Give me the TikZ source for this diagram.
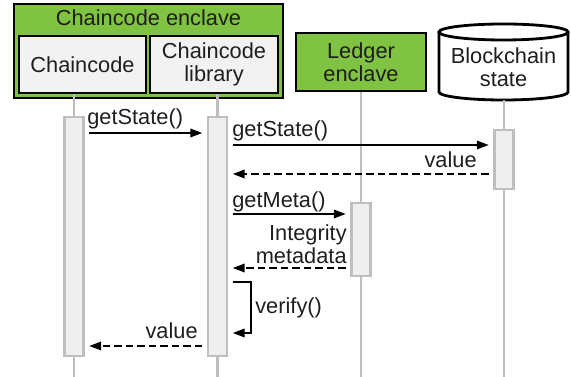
\documentclass[tikz,border=0pt]{standalone}
\usepackage{fontspec}
\setmainfont{Liberation Sans}
\usetikzlibrary{arrows.meta}
\definecolor{enclgreen}{RGB}{128,194,65}
\definecolor{boxgray}{RGB}{242,242,242}
\definecolor{bargray}{RGB}{239,239,239}
\definecolor{linegray}{RGB}{190,190,190}
\definecolor{textgray}{RGB}{30,30,30}
\tikzset{
    hdrbox/.style={draw=black, line width=1.6pt, fill=boxgray, inner sep=0pt, align=center},
    lifeline/.style={draw=linegray, line width=1.6pt},
    actbar/.style={draw=linegray, fill=bargray, line width=1.4pt, minimum width=0.38cm, inner sep=0pt},
    msg/.style={line width=1.1pt, shorten <=0.09cm, shorten >=0.09cm, -{Triangle[length=2.4mm,width=1.7mm]}},
    reply/.style={msg, dash pattern=on 1.5mm off 0.8mm},
}

\begin{document}
\begin{tikzpicture}[x=0.02cm, y=-0.02cm, font=\fontsize{12.4}{13.2}\selectfont, text=textgray]
    \useasboundingbox (0,0) rectangle (571,377);
    % heads
    \node[hdrbox, fill=enclgreen, minimum width=5.38cm, minimum height=1.88cm] (encl) at (148.5,51) {};
    \node (enclname) at (148.5,18) {Chaincode enclave};
    \node[hdrbox, minimum width=2.54cm, minimum height=1.14cm] (cc) at (82.5,64.5) {Chaincode};
    \node[hdrbox, minimum width=2.56cm, minimum height=1.14cm] (lib) at (214,64.5) {Chaincode\\library};
    \node[hdrbox, fill=enclgreen, minimum width=2.6cm, minimum height=1.16cm] (led) at (361,62) {Ledger\\enclave};
    \draw[draw=black, line width=1.6pt, fill=white] (439,32) -- (439,92)
        arc[start angle=180, end angle=360, x radius=1.29cm, y radius=0.16cm] -- (568,32);
    \draw[draw=black, line width=1.6pt, fill=white] (503.5,32) ellipse [x radius=1.29cm, y radius=0.16cm];
    \node[align=center] (bc) at (503.5,67) {Blockchain\\state};
    \coordinate (bcbot) at (504,100);

    % lifelines
    \coordinate (ccend) at (74,377);
    \coordinate (libend) at (217.5,377);
    \coordinate (ledend) at (361,377);
    \coordinate (bcend) at (504,377);
    \draw[lifeline] (ccend |- cc.south) -- (ccend);
    \draw[lifeline] (libend |- lib.south) -- (libend);
    \draw[lifeline] (ledend |- led.south) -- (ledend);
    \draw[lifeline] (bcbot) -- (bcend);

    % activations
    \node[actbar, minimum height=4.78cm] (ccbar) at (74,236.5) {};
    \node[actbar, minimum height=4.78cm] (libbar) at (217.5,236.5) {};
    \node[actbar, minimum height=1.18cm] (bcbar) at (504,159.5) {};
    \node[actbar, minimum height=1.46cm] (ledbar) at (361,239.5) {};

    % messages
    \draw[msg] (ccbar.east |- 0,133) -- (libbar.west |- 0,133);
    \node[anchor=base west, inner sep=0pt] (m1) at (87,125) {getState()};
    \draw[msg] (libbar.east |- 0,145) -- (bcbar.west |- 0,145);
    \node[anchor=base west, inner sep=0pt] (m2) at (232,137) {getState()};
    \draw[reply] (bcbar.west |- 0,174) -- (libbar.east |- 0,174);
    \node[anchor=base east, inner sep=0pt] (r1) at (477,168) {value};
    \draw[msg] (libbar.east |- 0,214) -- (ledbar.west |- 0,214);
    \node[anchor=base west, inner sep=0pt] (m3) at (232,208) {getMeta()};
    \draw[reply] (ledbar.west |- 0,268) -- (libbar.east |- 0,268);
    \node[anchor=east, align=right, inner sep=0pt] (r2) at (347,244) {Integrity\\metadata};
    \coordinate (vfy) at (251,308);
    \draw[msg] (libbar.east |- 0,282) -| (vfy) |- (libbar.east |- 0,333);
    \node[anchor=west, inner sep=0pt] (m4) at (255,308) {verify()};
    \draw[reply] (libbar.west |- 0,346) -- (ccbar.east |- 0,346);
    \node[anchor=base east, inner sep=0pt] (r3) at (198,339) {value};
\end{tikzpicture}
\end{document}
